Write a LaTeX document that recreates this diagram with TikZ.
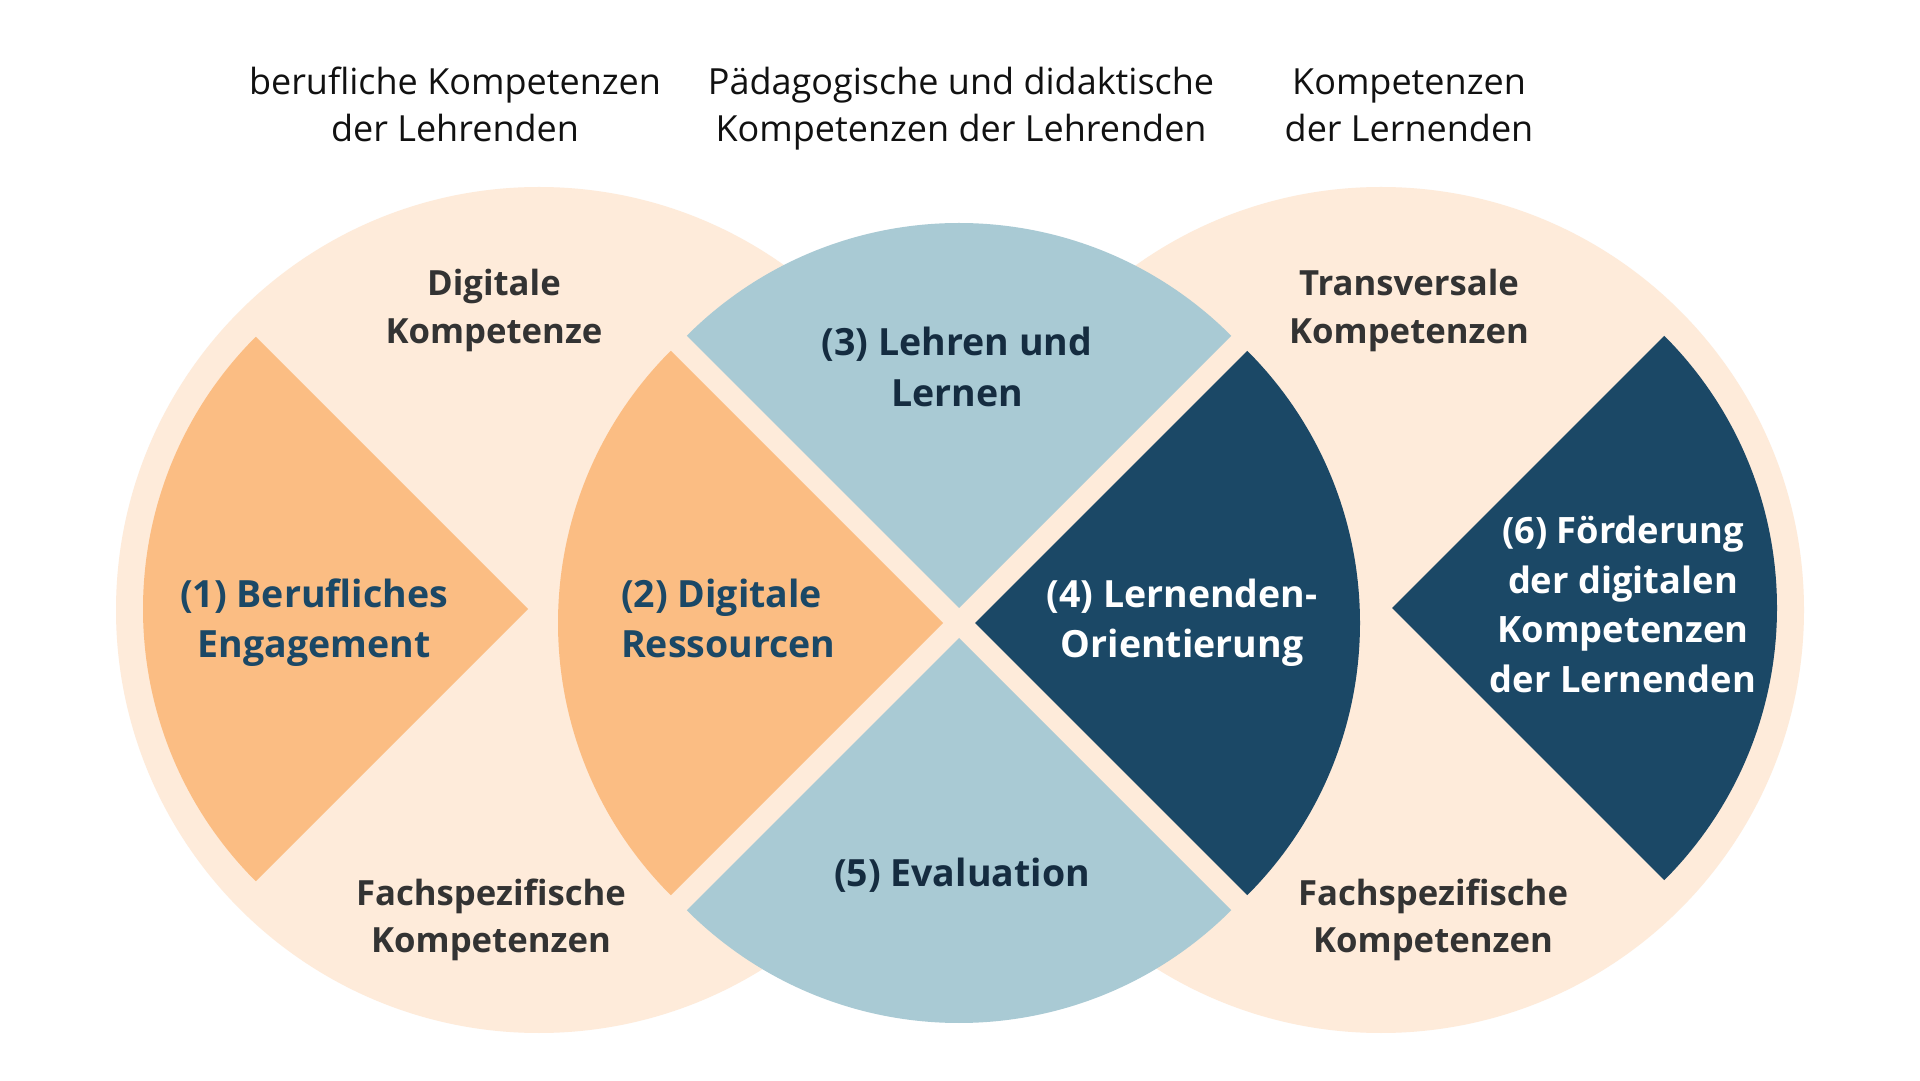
\documentclass[tikz,border=0pt]{standalone}
\usepackage{fontspec}
\setmainfont{Open Sans}
\definecolor{cream}{HTML}{FEEBDA}
\definecolor{orangeS}{HTML}{FBBD83}
\definecolor{blueS}{HTML}{A9CAD4}
\definecolor{navyS}{HTML}{1B4866}
\definecolor{darkT}{HTML}{152C40}
\definecolor{grayT}{HTML}{333333}
\definecolor{headT}{HTML}{111111}
\newcommand{\mylinesc}[1]{\begin{tabular}[t]{@{}c@{}}#1\end{tabular}}
\newcommand{\mylinesl}[1]{\begin{tabular}[t]{@{}l@{}}#1\end{tabular}}
\tikzset{
  headtxt/.style={anchor=base, inner sep=0pt, text=headT, font=\fontsize{36}{47}\selectfont},
  graytxt/.style={anchor=base, inner sep=0pt, text=grayT, font=\bfseries\fontsize{34.7}{47.5}\selectfont},
  sectxt/.style={anchor=base, inner sep=0pt, font=\bfseries\fontsize{37.5}{50.5}\selectfont},
  ring/.style={fill=cream, draw=none},
  wedge/.style={draw=none}
}
\begin{document}
\begin{tikzpicture}[x=1pt,y=1pt]
\useasboundingbox[fill=white] (0,0) rectangle (1920,1080);
% outer circles
\fill[ring] (539,470) circle[radius=423];
\fill[ring] (1381,470) circle[radius=423];
% sectors (radius 385)
\fill[wedge, orangeS] (528,471) -- ++(135:385) arc[start angle=135, end angle=225, radius=385] -- cycle;
\fill[wedge, orangeS] (943,457) -- ++(135:385) arc[start angle=135, end angle=225, radius=385] -- cycle;
\fill[wedge, blueS] (959,472) -- ++(45:385) arc[start angle=45, end angle=135, radius=385] -- cycle;
\fill[wedge, navyS] (975,457) -- ++(-45:385) arc[start angle=-45, end angle=45, radius=385] -- cycle;
\fill[wedge, blueS] (959,442) -- ++(225:385) arc[start angle=225, end angle=315, radius=385] -- cycle;
\fill[wedge, navyS] (1392,472) -- ++(-45:385) arc[start angle=-45, end angle=45, radius=385] -- cycle;
% headers
\node[headtxt] (h1) at (455,985) {\mylinesc{berufliche Kompetenzen\\der Lehrenden}};
\node[headtxt] (h2) at (961,985) {\mylinesc{Pädagogische und didaktische\\Kompetenzen der Lehrenden}};
\node[headtxt] (h3) at (1409,985) {\mylinesc{Kompetenzen\\der Lernenden}};
% gray labels
\node[graytxt] (dk) at (494,784) {\mylinesc{Digitale\\Kompetenze}};
\node[graytxt] (fl) at (491,175) {\mylinesc{Fachspezifische\\Kompetenzen}};
\node[graytxt] (tk) at (1409,784) {\mylinesc{Transversale\\Kompetenzen}};
\node[graytxt] (fr) at (1433,175) {\mylinesc{Fachspezifische\\Kompetenzen}};
% sector labels
\node[sectxt, text=navyS] (s1) at (314,472.5) {\mylinesc{(1) Berufliches\\Engagement}};
\node[sectxt, text=navyS, anchor=base west] (s2) at (621,472.5) {\mylinesl{(2) Digitale\\Ressourcen}};
\node[sectxt, text=darkT] (s3) at (957,724.3) {\mylinesc{(3) Lehren und\\Lernen}};
\node[sectxt, text=white] (s4) at (1182,472.5) {\mylinesc{(4) Lernenden-\\Orientierung}};
\node[sectxt, text=darkT] (s5) at (962,193.5) {\mylinesc{(5) Evaluation}};
\node[sectxt, text=white, font=\bfseries\fontsize{36.3}{49.5}\selectfont] (s6) at (1623,536.2) {\mylinesc{(6) Förderung\\der digitalen\\Kompetenzen\\der Lernenden}};
\end{tikzpicture}
\end{document}
